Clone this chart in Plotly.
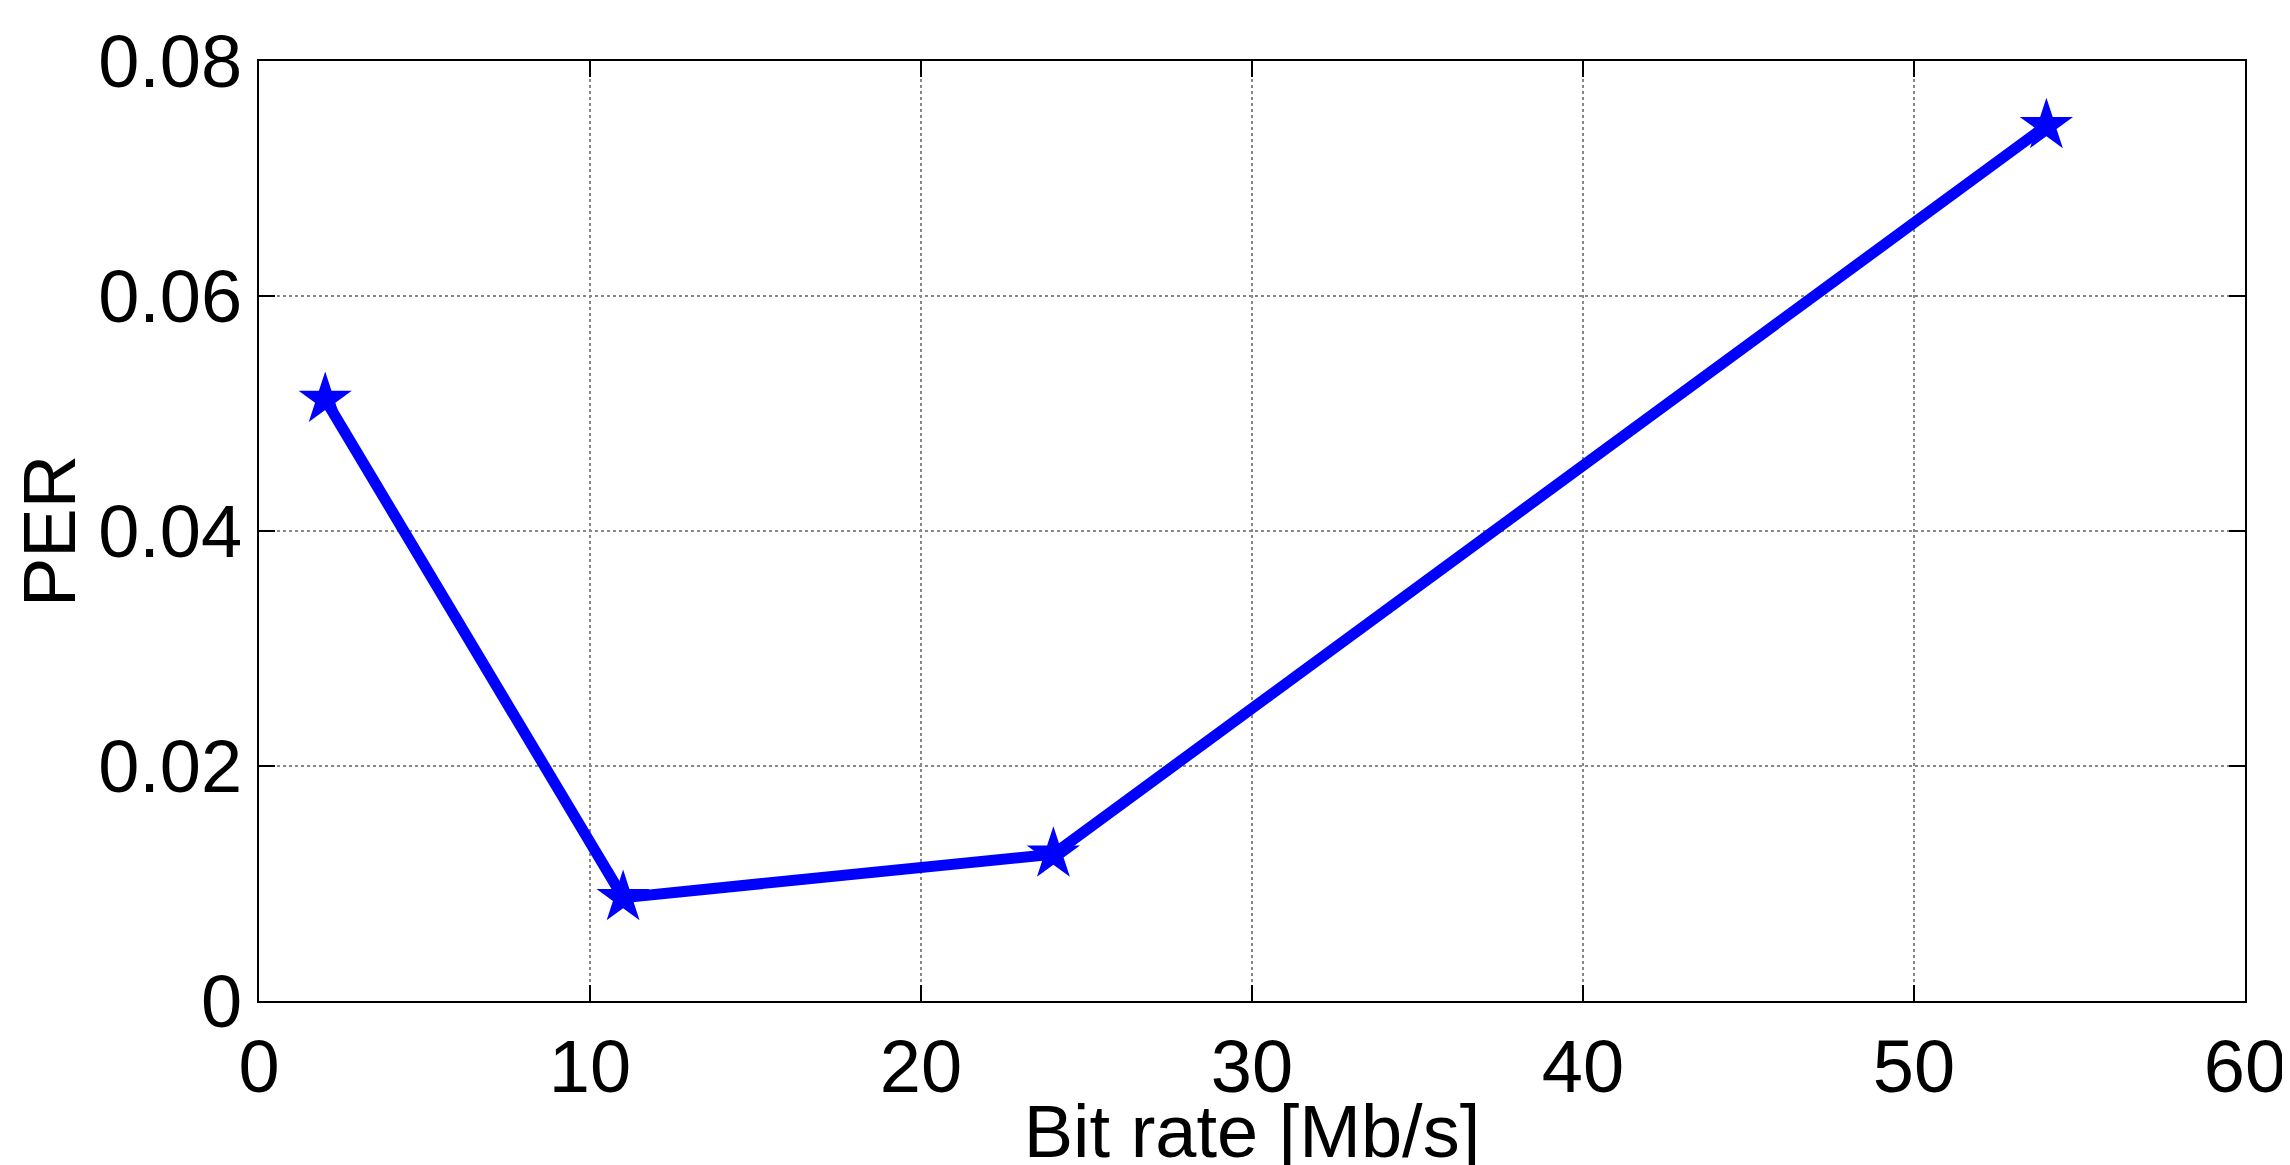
import plotly.graph_objects as go

bit_rate = [2, 11, 24, 54]
per = [0.0512, 0.0088, 0.0125, 0.0745]

x_ticks = [0, 10, 20, 30, 40, 50, 60]
y_ticks = [0, 0.02, 0.04, 0.06, 0.08]
y_labels = ["0", "0.02", "0.04", "0.06", "0.08"]

fig = go.Figure()
fig.add_trace(go.Scatter(
    x=bit_rate, y=per, mode="lines+markers",
    line=dict(color="#0000ff", width=11),
    marker=dict(symbol="star", size=40, color="#0000ff"),
))

axis_common = dict(
    showline=True, linecolor="black", linewidth=2, mirror="ticks",
    ticks="inside", ticklen=16, tickcolor="black", tickwidth=2,
    showgrid=True, gridcolor="#888888", griddash="dot", gridwidth=1.5,
    zeroline=False, tickfont=dict(size=74, color="black"),
)

fig.update_layout(
    width=2290, height=1165,
    paper_bgcolor="white", plot_bgcolor="white",
    font=dict(family="Liberation Sans, Arial", color="black"),
    margin=dict(l=251, r=51, t=51, b=172),
    showlegend=False,
    xaxis=dict(range=[0, 60], tickvals=x_ticks,
               title=dict(text="Bit rate [Mb/s]", font=dict(size=74), standoff=0),
               **axis_common),
    yaxis=dict(range=[0, 0.08], tickvals=y_ticks, ticktext=y_labels,
               title=dict(text="PER", font=dict(size=74), standoff=14),
               **axis_common),
)

fig.write_html("out.html")
